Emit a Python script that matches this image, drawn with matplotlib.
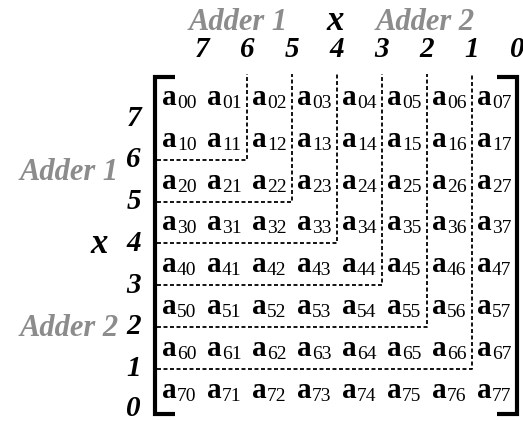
import matplotlib.pyplot as plt

# matrix a_ij, 8x8, with the L-shaped dashed partitions (adder regions)
n = 8
rows = list(range(n))
cols = list(range(n))
bit_labels = ['7', '6', '5', '4', '3', '2', '1', '0']
top_groups = ['Adder 1', 'x', 'Adder 2']
side_groups = ['Adder 1', 'x', 'Adder 2']
group_colors = ['#8c8c8c', 'black', '#8c8c8c']
group_sizes = [22, 25, 22]
partitions = [1, 2, 3, 4, 5, 6]   # L line after row k / column k

# grid geometry (pixels)
x0, dx = 162, 45.0
y0, dy = 105, 41.8
bx0 = x0 + 40          # first column boundary
by0 = 118              # first row boundary

fig = plt.figure(figsize=(5.23, 4.21), dpi=100)
ax = fig.add_axes([0, 0, 1, 1])
ax.set_xlim(0, 523)
ax.set_ylim(421, 0)
ax.axis('off')

serif = 'Liberation Serif'

# entries
for i in rows:
    for j in cols:
        x = x0 + dx * j
        y = y0 + dy * i
        ax.text(x, y, 'a', fontsize=21, fontweight='bold', family=serif,
                ha='left', va='baseline')
        ax.text(x + 15, y + 3, f'{i}{j}', fontsize=14, family=serif,
                ha='left', va='baseline')

# brackets
top, bot = 77, 414
ax.plot([175, 155, 155, 175], [top, top, bot, bot], color='black', lw=3,
        solid_joinstyle='miter', solid_capstyle='butt')
ax.plot([497, 517, 517, 497], [top, top, bot, bot], color='black', lw=3,
        solid_joinstyle='miter', solid_capstyle='butt')

# dashed partitions
left = 157
for k in partitions:
    xv = bx0 + dx * k
    yh = by0 + dy * k
    ax.plot([left, xv, xv], [yh, yh, 74], color='black', lw=1.3,
            linestyle=(0, (2.2, 1.4)))

# bit numbers
for m, lab in enumerate(bit_labels):
    ax.text(bx0 + dx * m, 57, lab, fontsize=21, fontweight='bold',
            fontstyle='italic', family=serif, ha='center', va='baseline')
    ax.text(141, min(by0 + dy * m, 408), lab, fontsize=21, fontweight='bold',
            fontstyle='italic', family=serif, ha='right', va='center')

# group labels
top_x = [238, 335, 425]
for lab, xx, c, s in zip(top_groups, top_x, group_colors, group_sizes):
    ax.text(xx, 30, lab, fontsize=s, fontweight='bold', fontstyle='italic',
            family=serif, color=c, ha='center', va='baseline')
side_y = [180, 253, 336]
side_x = [119, 108, 119]
for lab, xx, yy, c, s in zip(side_groups, side_x, side_y, group_colors, group_sizes):
    ax.text(xx, yy, lab, fontsize=s, fontweight='bold', fontstyle='italic',
            family=serif, color=c, ha='right', va='baseline')

fig.savefig('out.png', dpi=100)
